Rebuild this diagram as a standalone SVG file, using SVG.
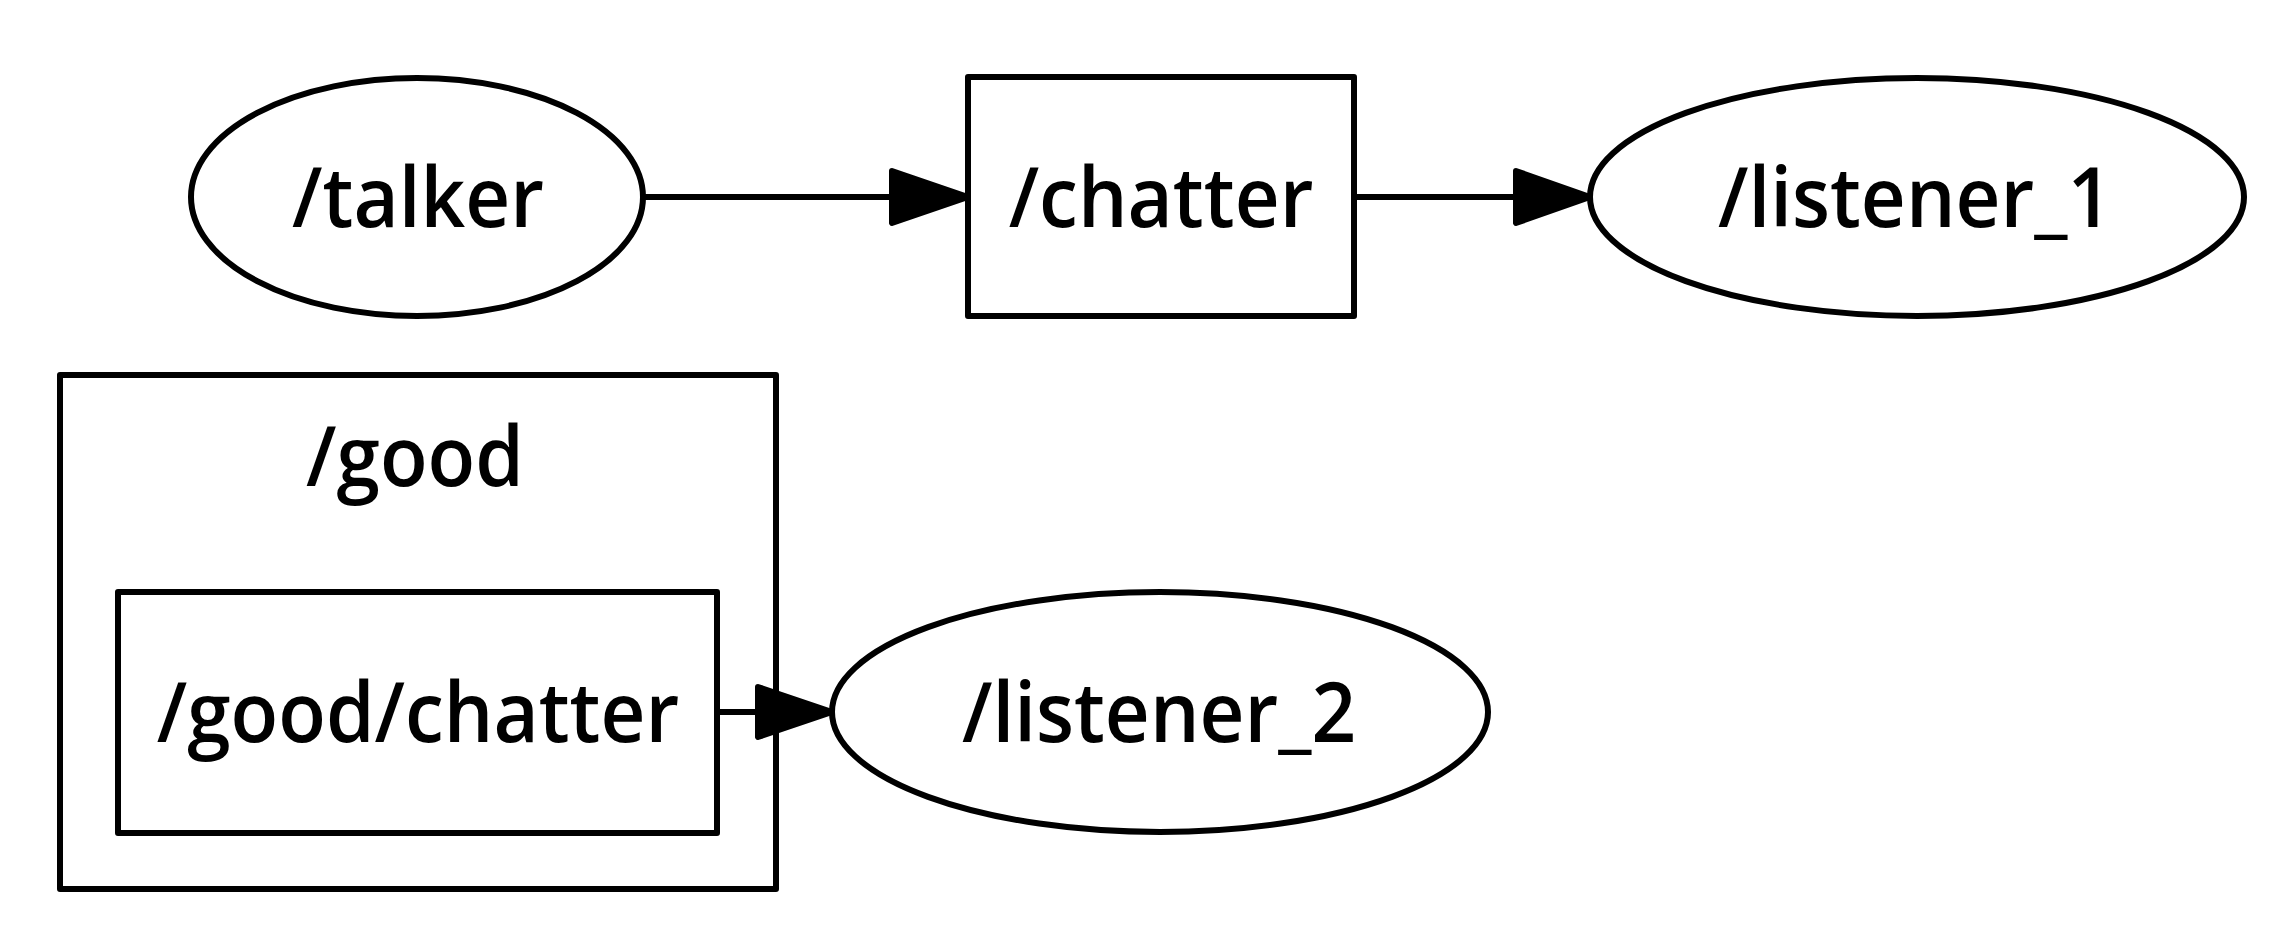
<svg xmlns="http://www.w3.org/2000/svg" width="2290" height="940" viewBox="0 0 2290 940">
<style>
.shape{fill:#fff;stroke:#000;stroke-width:6;stroke-linejoin:round}
.edge{fill:none;stroke:#000;stroke-width:6}
.head{fill:#000;stroke:#000;stroke-width:6;stroke-linejoin:round}
.lbl{font-family:"Open Sans","Noto Sans","DejaVu Sans",sans-serif;font-size:84px;font-weight:600;fill:#000;text-anchor:middle}
</style>
<rect width="2290" height="940" fill="#fff"/>
<g id="cluster_good">
<rect class="shape" x="60" y="375" width="716" height="514"/>
<text class="lbl" transform="translate(415,486) scale(0.93,1)">/good</text>
</g>
<g id="node_talker">
<ellipse class="shape" cx="417" cy="197" rx="226" ry="119"/>
<text class="lbl" transform="translate(418,227) scale(0.93,1)">/talker</text>
</g>
<g id="node_chatter">
<rect class="shape" x="968" y="77" width="386" height="239"/>
<text class="lbl" transform="translate(1161,227) scale(0.93,1)">/chatter</text>
</g>
<g id="node_listener_1">
<ellipse class="shape" cx="1917" cy="197" rx="327" ry="119"/>
<text class="lbl" transform="translate(1915,227) scale(0.93,1)">/listener_1</text>
</g>
<g id="node_good_chatter">
<rect class="shape" x="118" y="592" width="599" height="241"/>
<text class="lbl" transform="translate(418,742) scale(0.93,1)">/good/chatter</text>
</g>
<g id="node_listener_2">
<ellipse class="shape" cx="1160" cy="712" rx="328" ry="120"/>
<text class="lbl" transform="translate(1159,742) scale(0.93,1)">/listener_2</text>
</g>
<g id="connectors">
<line class="edge" x1="643" y1="197" x2="892" y2="197"/>
<polygon class="head" points="892,171 968,197 892,223"/>
<line class="edge" x1="1354" y1="197" x2="1516" y2="197"/>
<polygon class="head" points="1516,171 1590,197 1516,223"/>
<line class="edge" x1="717" y1="712" x2="758" y2="712"/>
<polygon class="head" points="758,687 832,712 758,737"/>
</g>
</svg>
